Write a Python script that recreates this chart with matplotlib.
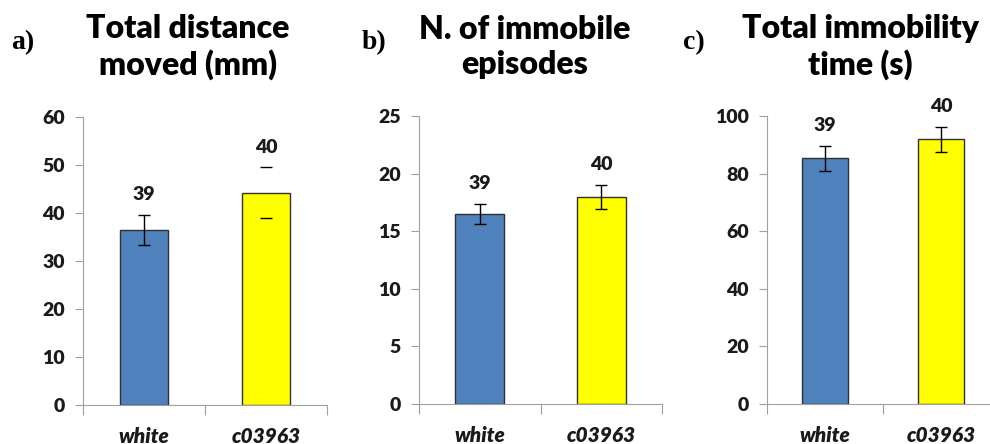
import matplotlib
matplotlib.use('Agg')
import matplotlib.pyplot as plt

# data
groups = ['white', 'c03963']
n_labels = ['39', '40']
titles = ['Total distance\nmoved (mm)', 'N. of immobile\nepisodes', 'Total immobility\ntime (s)']
panel_tags = ['a)', 'b)', 'c)']

distance_mean = [36.5, 44.2]
distance_err = [3.1, 5.3]
episodes_mean = [16.5, 18.0]
episodes_err = [0.9, 1.05]
immobility_mean = [85.3, 91.9]
immobility_err = [4.3, 4.3]

y_max = [60, 25, 100]
y_step = [10, 5, 20]

colors = ['#4F81BD', '#FFFF00']
W, H = 990, 444

plt.rcParams['font.family'] = ['Lato', 'DejaVu Sans']

fig = plt.figure(figsize=(W / 100, H / 100), dpi=100)

# axes boxes in pixels: left, right, top(y of max), bottom(y of 0)
boxes = [(83, 327, 117, 405), (419, 662, 116, 404), (767, 999, 116, 404)]
title_x = [188, 525, 860]
tag_x = [23, 374, 694]

means = [distance_mean, episodes_mean, immobility_mean]
errs = [distance_err, episodes_err, immobility_err]

for i in range(3):
    l, r, t, b = boxes[i]
    ax = fig.add_axes([l / W, 1 - b / H, (r - l) / W, (b - t) / H])
    x = [0.5, 1.5]
    ax.bar(x, means[i], width=0.4, color=colors, edgecolor='#303030', linewidth=1, zorder=2)
    for j in range(2):
        if i == 0 and j == 1:
            # this error bar shows only its caps in the original
            ax.errorbar(x[j], means[i][j], yerr=errs[i][j], fmt='none', ecolor='black',
                        elinewidth=0, capsize=4, capthick=1, zorder=3)
        else:
            ax.errorbar(x[j], means[i][j], yerr=errs[i][j], fmt='none', ecolor='black',
                        elinewidth=1, capsize=4, capthick=1, zorder=3)
        ax.text(x[j], means[i][j] + errs[i][j] + y_max[i] * 0.04, n_labels[j],
                ha='center', va='bottom', fontsize=14, fontweight='heavy', color='#1a1a1a')
    ax.set_xlim(0, 2)
    ax.set_ylim(0, y_max[i])
    ax.set_yticks(range(0, y_max[i] + 1, y_step[i]))
    ax.set_xticks([0, 1, 2])
    ax.set_xticklabels([])
    for sp in ['top', 'right']:
        ax.spines[sp].set_visible(False)
    for sp in ['left', 'bottom']:
        ax.spines[sp].set_color('#A0A0A0')
    ax.tick_params(axis='y', colors='#A0A0A0', labelcolor='#1a1a1a', length=6,
                   labelsize=14, pad=7)
    ax.tick_params(axis='x', colors='#A0A0A0', length=7, direction='out')
    for lab in ax.get_yticklabels():
        lab.set_fontweight('heavy')
    for j in range(2):
        ax.text(x[j], -0.075, groups[j], transform=ax.get_xaxis_transform(),
                ha='center', va='top', fontsize=15, fontweight='heavy', style='italic',
                color='#1a1a1a')

    fig.text(title_x[i] / W, 1 - 47 / H, titles[i], ha='center', va='center',
             fontsize=23, fontweight='heavy', linespacing=1.25)
    fig.text(tag_x[i] / W, 1 - 43 / H, panel_tags[i], ha='center', va='center',
             fontsize=20, fontweight='bold', family='Liberation Serif')

fig.savefig('out.png', dpi=100)
